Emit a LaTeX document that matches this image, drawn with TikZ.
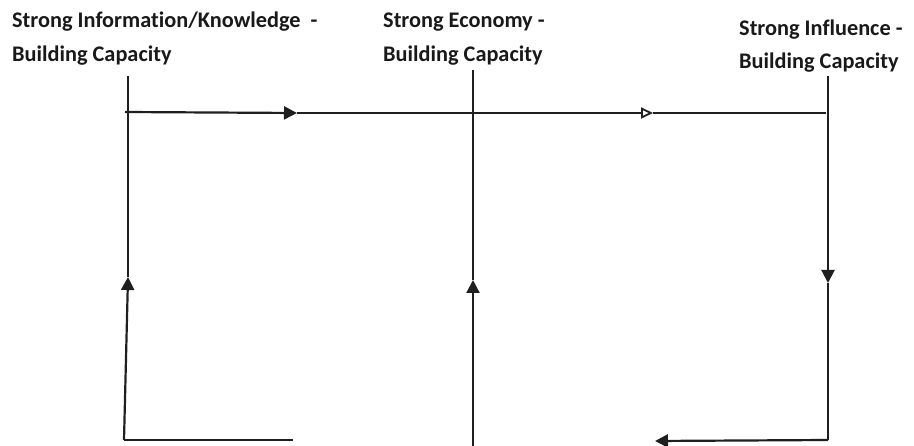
\documentclass[tikz,border=0pt]{standalone}
\usepackage{fontspec}
\setmainfont[Ligatures=NoCommon]{Carlito}
\usetikzlibrary{arrows.meta}
\begin{document}
\begin{tikzpicture}[x=1pt,y=-1pt,
  lbl/.style={anchor=base west,inner sep=0pt,font=\bfseries\fontsize{22.3}{32}\selectfont,text=black!90},
  wire/.style={line width=2.2pt,draw=black!88},
  fillhead/.style={-{Triangle[length=13pt,width=13pt]}},
  openhead/.style={-{Triangle[open,length=12pt,width=11pt,line width=1.8pt]}}]
\useasboundingbox (0,0) rectangle (914,446);

% three headings
\node[lbl] (info1) at (12,28) {Strong Information/Knowledge\ \ -};
\node[lbl] (info2) at (12,62) {Building Capacity};
\node[lbl] (eco1) at (383,28) {Strong Economy -};
\node[lbl] (eco2) at (383,62) {Building Capacity};
\node[lbl] (inf1) at (739,36) {Strong Influence -};
\node[lbl] (inf2) at (739,69) {Building Capacity};

% corner and joint points of the loop
\coordinate (lt) at (128,76);
\coordinate (lup) at (128,277);
\coordinate (lb) at (124,440);
\coordinate (lbe) at (293,440);
\coordinate (ts) at (125,112);
\coordinate (ta1) at (297,113);
\coordinate (ta2) at (653,113);
\coordinate (te) at (826,113);
\coordinate (mt) at (473,70);
\coordinate (mup) at (473,280);
\coordinate (mb) at (473,446);
\coordinate (rt) at (828,76);
\coordinate (rdn) at (828,283);
\coordinate (rb) at (828,440);
\coordinate (bra) at (655,441);

% left column
\draw[wire] (lup) -- (lt);
\draw[wire,fillhead] (lb) -- (lup);
\draw[wire] (lb) -- (lbe);

% top line
\draw[wire,fillhead] (ts) -- (ta1);
\draw[wire,openhead] (ta1) -- (ta2);
\draw[wire,line width=2.8pt] (ta2) -- (te);

% middle column
\draw[wire] (mup) -- (mt);
\draw[wire,fillhead] (mb) -- (mup);

% right column
\draw[wire,fillhead] (rt) -- (rdn);
\draw[wire] (rdn) -- (rb);
\draw[wire,fillhead] (rb) -- (bra);
\end{tikzpicture}
\end{document}
